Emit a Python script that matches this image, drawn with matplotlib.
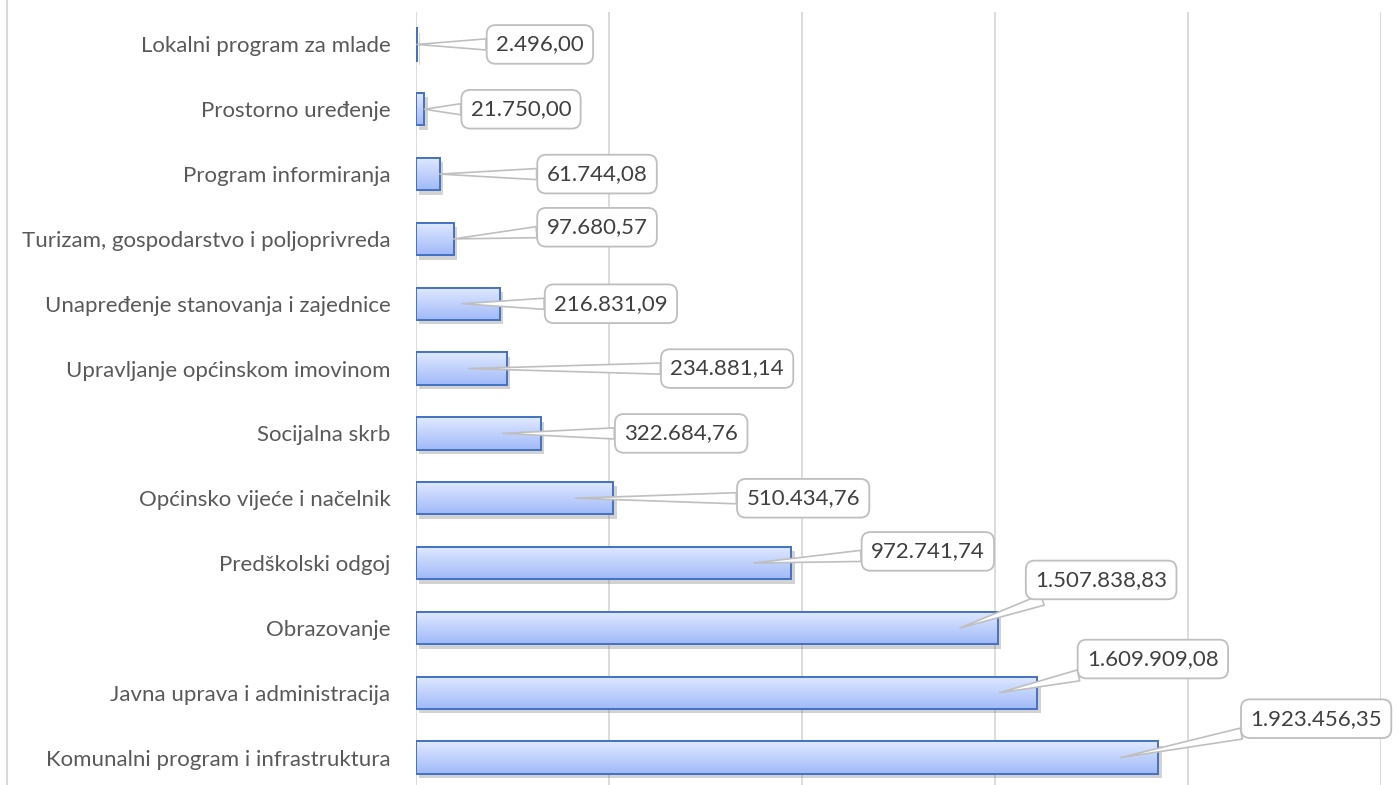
import numpy as np
import matplotlib
matplotlib.use("Agg")
import matplotlib.pyplot as plt
from matplotlib import patheffects as pe
from matplotlib.lines import Line2D

# ---------------- data ----------------
categories = [
    "Lokalni program za mlade",
    "Prostorno uređenje",
    "Program informiranja",
    "Turizam, gospodarstvo i poljoprivreda",
    "Unapređenje stanovanja i zajednice",
    "Upravljanje općinskom imovinom",
    "Socijalna skrb",
    "Općinsko vijeće i načelnik",
    "Predškolski odgoj",
    "Obrazovanje",
    "Javna uprava i administracija",
    "Komunalni program i infrastruktura",
]
values = [2496.00, 21750.00, 61744.08, 97680.57, 216831.09, 234881.14,
          322684.76, 510434.76, 972741.74, 1507838.83, 1609909.08, 1923456.35]

# ---------------- layout (label box placement, data coords) ----------------
label_x = [321000, 272000, 469000, 469000, 505000, 806000,
           687000, 1003000, 1326000, 1775000, 1909000, 2332000]
label_dy = [0.0, 0.0, 0.0, -0.18, 0.0, 0.0, 0.0, 0.0, -0.18, -0.74, -0.52, -0.6]

FONT = ["Lato", "DejaVu Sans"]
plt.rcParams["font.family"] = FONT
FS = 16

W, H = 1398, 785
fig = plt.figure(figsize=(W / 100, H / 100), dpi=100)
ax_left, ax_right, ax_top, ax_bot = 416, 1381, 12, 790
ax = fig.add_axes([ax_left / W, 1 - ax_bot / H, (ax_right - ax_left) / W, (ax_bot - ax_top) / H])

# chart border (left edge visible)
fig.add_artist(Line2D([7 / W, 7 / W], [0, 1], transform=fig.transFigure, color="#d9d9d9", lw=1.5))

y = np.arange(len(categories))
bh = 0.5
bars = ax.barh(y, values, height=bh, color="#b4c8fa", edgecolor="#4472c4", linewidth=1.4, zorder=3)

# shadows
for b in bars:
    b.set_path_effects([pe.SimplePatchShadow(offset=(2.5, -3.2), shadow_rgbFace="#7f7f7f", alpha=0.35),
                        pe.Normal()])

# gradient fill
c_top = np.array([0xE0, 0xE9, 0xFF]) / 255
c_bot = np.array([0xA0, 0xB9, 0xF8]) / 255
t = np.linspace(0, 1, 64)[:, None]
grad = (c_top[None, :] * (1 - t) + c_bot[None, :] * t)[:, None, :]
for i, (v, b) in enumerate(zip(values, bars)):
    im = ax.imshow(grad, extent=[0, v, i + bh / 2, i - bh / 2], aspect="auto",
                   origin="upper", zorder=3.5, interpolation="bilinear")
    im.set_clip_path(b)
# re-draw edges on top
ax.barh(y, values, height=bh, color="none", edgecolor="#4472c4", linewidth=1.4, zorder=4)

ax.set_xlim(0, 2500000)
ax.set_ylim(len(categories) - 0.5, -0.5)
ax.set_xticks(np.arange(0, 2500001, 500000))
ax.xaxis.grid(True, color="#d9d9d9", lw=1.3)
ax.set_axisbelow(True)
ax.tick_params(axis="x", length=0, labelbottom=False)
ax.tick_params(axis="y", length=0, pad=18.5)
ax.set_yticks(y)
ax.set_yticklabels(categories, fontsize=FS, color="#595959")
for s in ax.spines.values():
    s.set_visible(False)

def fmt(v):
    s = f"{v:,.2f}"
    return s.replace(",", "X").replace(".", ",").replace("X", ".")

for i, v in enumerate(values):
    anchor = v - 98000 if v > 150000 else v
    ax.annotate(fmt(v), xy=(anchor, i), xytext=(label_x[i], i + label_dy[i]),
                textcoords="data", ha="center", va="center", fontsize=FS, color="#404040",
                zorder=6, annotation_clip=False,
                bbox=dict(boxstyle="round,pad=0.42,rounding_size=0.4", fc="white", ec="#bfbfbf", lw=1.3),
                arrowprops=dict(arrowstyle="wedge,tail_width=0.5,shrink_factor=0.5", fc="white",
                                ec="#bfbfbf", lw=1.2, shrinkA=0, shrinkB=0))

fig.savefig("out.png", dpi=100)
